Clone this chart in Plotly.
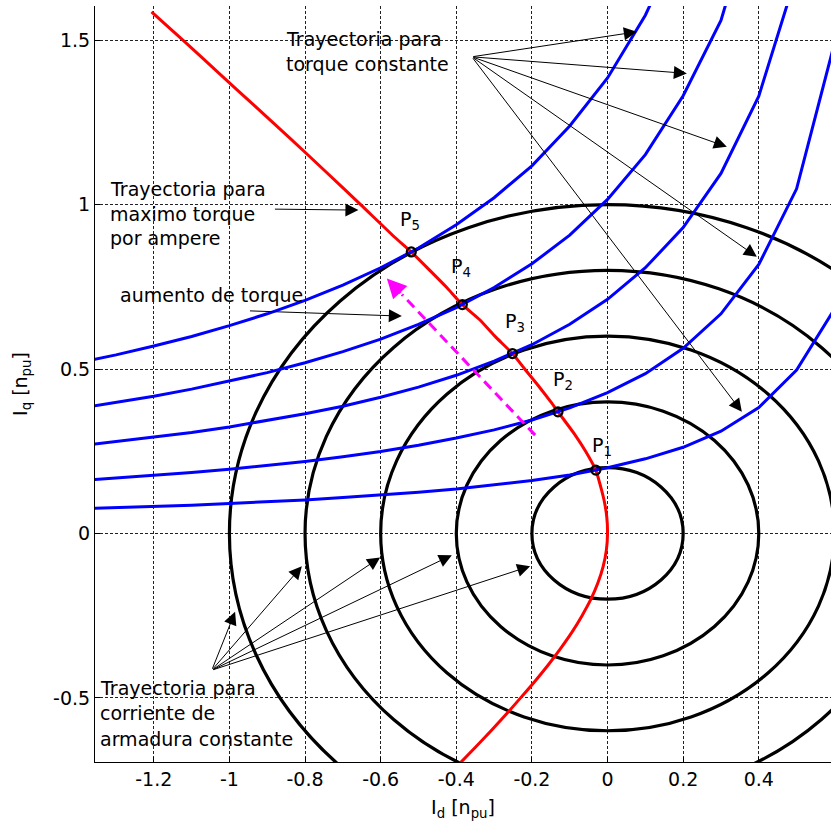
import plotly.graph_objects as go

# Constant armature-current loci (radius in pu)
current_radii = [0.2, 0.4, 0.6, 0.8, 1.0]

# Maximum-torque-per-ampere trajectory (Id, Iq in pu)
mtpa_id = [-1.206, -1.123, -1.028, -0.933, -0.838, -0.745, -0.653, -0.562, -0.519,
           -0.470, -0.427, -0.384, -0.338, -0.298, -0.2515, -0.219, -0.1835, -0.150,
           -0.131, -0.086, -0.058, -0.031, -0.020, -0.009, -0.002, 0.000, -0.003,
           -0.0115, -0.0254, -0.044, -0.0674, -0.094, -0.1244, -0.157, -0.1924,
           -0.230, -0.2681, -0.308, -0.3494, -0.388, -0.400]
mtpa_iq = [1.586, 1.500, 1.400, 1.300, 1.200, 1.100, 1.000, 0.900, 0.856,
           0.800, 0.750, 0.696, 0.650, 0.600, 0.547, 0.500, 0.450, 0.400,
           0.370, 0.300, 0.250, 0.1925, 0.150, 0.100, 0.050, 0.000, -0.050,
           -0.100, -0.150, -0.200, -0.250, -0.300, -0.350, -0.400, -0.450,
           -0.500, -0.550, -0.600, -0.650, -0.696, -0.710]

# Operating points on the MTPA trajectory
op_names = ["P<sub>1</sub>", "P<sub>2</sub>", "P<sub>3</sub>", "P<sub>4</sub>", "P<sub>5</sub>"]
op_id = [-0.031, -0.131, -0.2515, -0.384, -0.519]
op_iq = [0.1925, 0.370, 0.547, 0.696, 0.856]

# Constant-torque loci sampled on a common Id grid
torque_id = [-1.4, -1.3, -1.2, -1.1, -1.0, -0.9, -0.8, -0.7, -0.6, -0.5, -0.4,
             -0.3, -0.2, -0.1, 0.0, 0.1, 0.2, 0.3, 0.4, 0.5, 0.6]
torque_iq_1 = [0.075, 0.078, 0.082, 0.086, 0.091, 0.096, 0.102, 0.109, 0.116, 0.125, 0.135,
               0.147, 0.161, 0.178, 0.200, 0.227, 0.262, 0.311, 0.383, 0.497, 0.682]
torque_iq_2 = [0.160, 0.168, 0.176, 0.185, 0.195, 0.206, 0.219, 0.233, 0.249, 0.268, 0.290,
               0.315, 0.345, 0.382, 0.428, 0.486, 0.563, 0.668, 0.818, 1.048, 1.490]
torque_iq_3 = [0.266, 0.279, 0.292, 0.307, 0.324, 0.343, 0.364, 0.387, 0.414, 0.445, 0.481,
               0.524, 0.574, 0.636, 0.712, 0.808, 0.930, 1.095, 1.330, 1.700]
torque_iq_4 = [0.380, 0.398, 0.417, 0.439, 0.463, 0.489, 0.519, 0.553, 0.591, 0.636, 0.687,
               0.748, 0.820, 0.907, 1.016, 1.152, 1.331, 1.560, 1.948]
torque_iq_5 = [0.519, 0.543, 0.570, 0.599, 0.632, 0.668, 0.709, 0.755, 0.808, 0.868, 0.939,
               1.021, 1.118, 1.239, 1.385, 1.576, 1.824]
torque_curves = [torque_iq_1, torque_iq_2, torque_iq_3, torque_iq_4, torque_iq_5]

# Direction of increasing torque (start, end) in pu
torque_rise_id = [-0.1915, -0.5438]
torque_rise_iq = [0.299, 0.7269]

# Axis ticks
x_ticks = [-1.2, -1.0, -0.8, -0.6, -0.4, -0.2, 0.0, 0.2, 0.4]
x_tick_text = ["-1.2", "-1", "-0.8", "-0.6", "-0.4", "-0.2", "0", "0.2", "0.4"]
y_ticks = [-0.5, 0.0, 0.5, 1.0, 1.5]
y_tick_text = ["-0.5", "0", "0.5", "1", "1.5"]

FONT = "DejaVu Sans, Liberation Sans, Arial, sans-serif"
FS = 19

fig = go.Figure()

# constant current circles
for r in current_radii:
    fig.add_shape(type="circle", xref="x", yref="y", x0=-r, y0=-r, x1=r, y1=r,
                  line=dict(color="black", width=3.2), layer="between")

# MTPA trajectory
fig.add_trace(go.Scatter(x=mtpa_id, y=mtpa_iq, mode="lines",
                         line=dict(color="#ff0000", width=3, shape="spline", smoothing=0.6),
                         hoverinfo="skip"))

# constant torque curves
for iq in torque_curves:
    fig.add_trace(go.Scatter(x=torque_id[:len(iq)], y=iq, mode="lines",
                             line=dict(color="#0000ff", width=3), hoverinfo="skip"))

# torque increase direction (dashed shaft)
fig.add_trace(go.Scatter(x=torque_rise_id, y=torque_rise_iq, mode="lines",
                         line=dict(color="#ff00ff", width=3, dash="10px,6px"),
                         hoverinfo="skip"))

# operating points
fig.add_trace(go.Scatter(x=op_id, y=op_iq, mode="markers",
                         marker=dict(symbol="circle-open", size=9, color="black",
                                     line=dict(width=2.2, color="black")),
                         hoverinfo="skip"))

annotations = []

# labels of the operating points, offset in pixels from each marker
label_offsets = [(-4, 24), (-5, 31), (-7, 31), (-11, 37), (-11, 31)]
for name, xi, yi, (dx, dy) in zip(op_names, op_id, op_iq, label_offsets):
    annotations.append(dict(x=xi, y=yi, xref="x", yref="y", text=name, showarrow=False,
                            xanchor="left", yanchor="middle", xshift=dx, yshift=dy,
                            borderpad=0, borderwidth=0,
                            font=dict(family=FONT, size=FS, color="black")))

# magenta arrow head
annotations.append(dict(x=-0.5837, y=0.7755, ax=torque_rise_id[1], ay=torque_rise_iq[1],
                        xref="x", yref="y", axref="x", ayref="y", text="",
                        showarrow=True, arrowhead=2, arrowsize=1.3, arrowwidth=3,
                        arrowcolor="#ff00ff", standoff=0, startstandoff=0))


def text_line(x, y, s):
    annotations.append(dict(x=x, y=y, xref="x", yref="y", text=s, showarrow=False,
                            xanchor="left", yanchor="middle", borderpad=0, borderwidth=0,
                            font=dict(family=FONT, size=FS, color="black")))


def pointer(tail, tip):
    annotations.append(dict(x=tip[0], y=tip[1], ax=tail[0], ay=tail[1],
                            xref="x", yref="y", axref="x", ayref="y", text="",
                            showarrow=True, arrowhead=2, arrowsize=2.6, arrowwidth=1,
                            arrowcolor="black", standoff=0, startstandoff=0))


# constant torque callout
text_line(-0.850, 1.503, "Trayectoria para")
text_line(-0.850, 1.429, "torque constante")
for tip in [(0.0775, 1.5255), (0.2097, 1.399), (0.3155, 1.1758), (0.3949, 0.8412), (0.3552, 0.3698)]:
    pointer((-0.3589, 1.4495), tip)

# MTPA callout
text_line(-1.3155, 1.049, "Trayectoria para")
text_line(-1.3155, 0.973, "maximo torque")
text_line(-1.3155, 0.897, "por ampere")
pointer((-0.8836, 0.9863), (-0.6588, 0.9833))

# torque increase callout
text_line(-1.2891, 0.7245, "aumento de torque")
pointer((-0.9497, 0.677), (-0.544, 0.661))

# constant current callout
text_line(-1.3420, -0.4696, "Trayectoria para")
text_line(-1.3420, -0.5456, "corriente de")
text_line(-1.3420, -0.6238, "armadura constante")
for tip in [(-0.985, -0.2384), (-0.8085, -0.0995), (-0.6014, -0.073), (-0.4118, -0.066), (-0.2047, -0.0995)]:
    pointer((-1.0466, -0.4158), tip)

axis_common = dict(
    showline=True, linecolor="black", linewidth=1, mirror=False,
    ticks="inside", ticklen=5, tickcolor="black", tickwidth=1,
    showgrid=True, gridcolor="#222222", gridwidth=1, griddash="3px,2px",
    zeroline=False, tickfont=dict(family=FONT, size=FS, color="black"),
    automargin=False,
)

fig.update_layout(
    width=837, height=833,
    margin=dict(l=95, r=6, t=6, b=71),
    paper_bgcolor="white", plot_bgcolor="white",
    showlegend=False,
    annotations=annotations,
    xaxis=dict(range=[-1.3555, 0.591], tickvals=x_ticks, ticktext=x_tick_text,
               title=dict(text="I<sub>d</sub> [n<sub>pu</sub>]", standoff=11,
                          font=dict(family=FONT, size=FS, color="black")),
               **axis_common),
    yaxis=dict(range=[-0.695, 1.604], tickvals=y_ticks, ticktext=y_tick_text,
               title=dict(text="I<sub>q</sub> [n<sub>pu</sub>]", standoff=20,
                          font=dict(family=FONT, size=FS, color="black")),
               **axis_common),
)

fig.write_html("out.html")
